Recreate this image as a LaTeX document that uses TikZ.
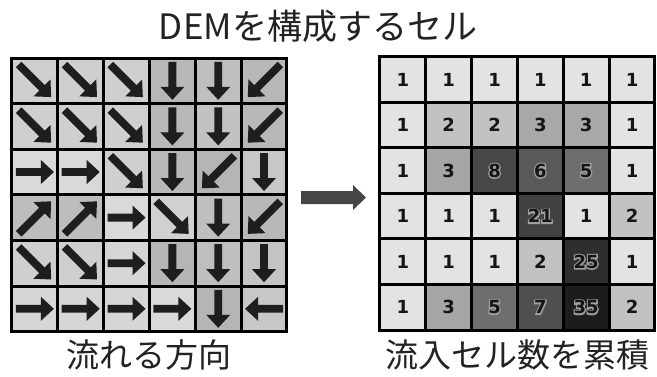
\documentclass[tikz,border=0pt]{standalone}
\usepackage{fontspec}
\setmainfont{DejaVu Sans}
\newfontfamily\jpfont{Noto Sans CJK JP}
\definecolor{arrowcol}{HTML}{1E1E1E}
\definecolor{bigarrow}{HTML}{454545}
\definecolor{numcol}{HTML}{151515}
\definecolor{capcol}{HTML}{222222}
% light outline (halo) behind dark numbers: stroked copy, then filled copy
\newcommand\halonum[1]{\rlap{\special{pdf:literal direct 1 Tr 2.6 w 0.62 0.62 0.62 RG}#1\special{pdf:literal direct 0 Tr 0 0 0 RG 1 w}}#1}
\tikzset{
  cellbox/.style={draw=black, line width=3pt, inner sep=0pt, minimum width=45.83pt, minimum height=45.6pt},
  numtext/.style={font=\fontsize{18}{18}\selectfont\bfseries, text=numcol},
  caption/.style={font=\jpfont\fontsize{33}{33}\selectfont, text=capcol},
  pics/flow/.style={code={\fill[arrowcol] (-#1,-3.9) -- (#1-13,-3.9) -- (#1-13,-12) -- (#1,0) -- (#1-13,12) -- (#1-13,3.9) -- (-#1,3.9) -- cycle;}}
}
\begin{document}
\begin{tikzpicture}[x=1pt,y=-1pt]
\useasboundingbox (0,0) rectangle (657,376);
% left grid: flow directions
\foreach \row [count=\r from 0] in {
  {-45/23/81,-45/23/81,-45/23/81,-90/19/72,-90/19/75,-135/23/72},
  {-45/23/81,-45/23/81,-45/23/81,-90/19/72,-90/19/76,-135/23/72},
  {0/19/85,0/19/85,-45/23/81,-90/19/72,-135/23/71,-90/19/78},
  {45/23/74,45/23/74,0/19/85,-45/23/82,-90/19/75,-135/23/72},
  {-45/23/81,-45/23/81,0/19/84,-90/19/71,-90/19/75,-90/19/77},
  {0/19/84,0/19/84,0/19/84,0/19/85,-90/19/71,180/19/78}} {
  \foreach \a/\l/\g [count=\c from 0] in \row {
    \node[cellbox, fill=white!\g!black] (L-\r-\c) at (34.9+45.83*\c, 80.8+45.6*\r) {};
    \pic[rotate=\a] at (L-\r-\c) {flow=\l};
  }
}
% right grid: accumulation
\foreach \row [count=\r from 0] in {
  {1/89/0,1/89/0,1/89/0,1/89/0,1/89/0,1/89/0},
  {1/89/0,2/76/0,2/76/0,3/66/0,3/66/0,1/89/0},
  {1/89/0,3/65/0,8/28/1,6/35/1,5/43/1,1/89/0},
  {1/89/0,1/89/0,1/89/0,21/26/1,1/89/0,2/76/0},
  {1/89/0,1/89/0,1/89/0,2/76/0,25/18/1,1/89/0},
  {1/89/0,3/65/0,5/43/1,7/31/1,35/11/1,2/76/0}} {
  \foreach \v/\g/\h [count=\c from 0] in \row {
    \node[cellbox, numtext, fill=white!\g!black] (R-\r-\c) at (402.9+45.83*\c, 79.75+45.5*\r) {\ifnum\h=1 \halonum{\v}\else\v\fi};
  }
}
% big arrow between the grids
\fill[bigarrow, shift={(333.5,197.5)}] (-32.5,-6.5) -- (19.5,-6.5) -- (19.5,-12.5) -- (32.5,0) -- (19.5,12.5) -- (19.5,6.5) -- (-32.5,6.5) -- cycle;
% captions
\node[caption, font=\jpfont\fontsize{35}{35}\selectfont] (title) at (318,26) {DEMを構成するセル};
\node[caption] (capL) at (149,355) {流れる方向};
\node[caption] (capR) at (517.5,355) {流入セル数を累積};
\end{tikzpicture}
\end{document}
